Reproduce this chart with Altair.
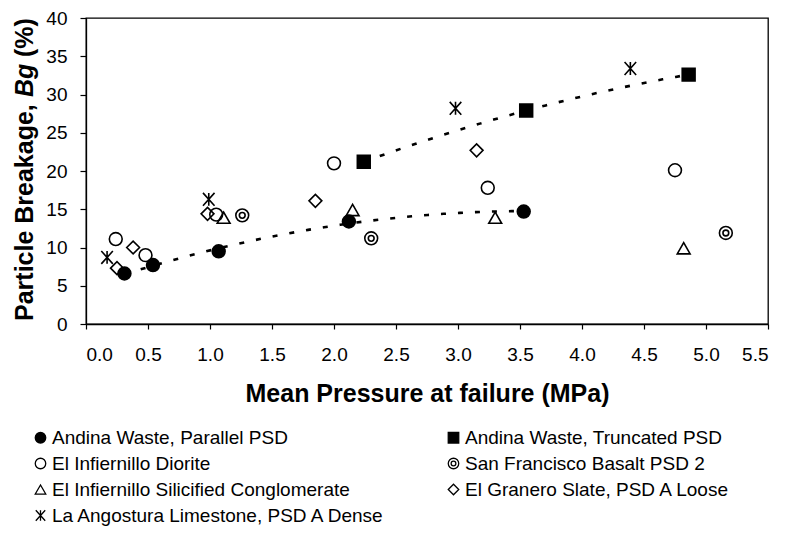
import altair as alt
import pandas as pd

# ---- data ----
# legend order: left column first (top to bottom), then right column
series_names = [
    "Andina Waste, Parallel PSD",
    "El Infiernillo Diorite",
    "El Infiernillo Silicified Conglomerate",
    "La Angostura Limestone, PSD A Dense",
    "Andina Waste, Truncated PSD",
    "San Francisco Basalt PSD 2",
    "El Granero Slate, PSD A Loose",
]

parallel_x = [0.31, 0.54, 1.07, 2.12, 3.53]
parallel_y = [6.6, 7.7, 9.5, 13.4, 14.7]

diorite_x = [0.24, 0.48, 1.05, 2.00, 3.24, 4.75]
diorite_y = [11.1, 9.0, 14.3, 21.0, 17.8, 20.1]

conglomerate_x = [1.11, 2.15, 3.30, 4.82]
conglomerate_y = [13.9, 14.9, 13.9, 9.9]

limestone_x = [0.17, 0.99, 2.98, 4.39]
limestone_y = [8.7, 16.3, 28.2, 33.4]

truncated_x = [2.24, 3.55, 4.86]
truncated_y = [21.2, 27.9, 32.6]

basalt_x = [1.26, 2.30, 5.16]
basalt_y = [14.2, 11.2, 11.9]

slate_x = [0.25, 0.38, 0.98, 1.85, 3.15]
slate_y = [7.3, 10.0, 14.4, 16.1, 22.7]

x_ticks = [0.0, 0.5, 1.0, 1.5, 2.0, 2.5, 3.0, 3.5, 4.0, 4.5, 5.0, 5.5]
y_ticks = [0, 5, 10, 15, 20, 25, 30, 35, 40]

xs = [parallel_x, diorite_x, conglomerate_x, limestone_x, truncated_x, basalt_x, slate_x]
ys = [parallel_y, diorite_y, conglomerate_y, limestone_y, truncated_y, basalt_y, slate_y]

rows = []
for name, sx, sy in zip(series_names, xs, ys):
    for a, b in zip(sx, sy):
        rows.append({"series": name, "x": a, "y": b})
df = pd.DataFrame(rows)

double_circle = ("M1,0A1,1,0,1,1,-1,0A1,1,0,1,1,1,0Z"
                 "M0.45,0A0.45,0.45,0,1,1,-0.45,0A0.45,0.45,0,1,1,0.45,0Z")
asterisk = "M0,-1L0,1M-0.9,-1L0.9,1M-0.9,1L0.9,-1"

shapes = ["circle", "circle", "triangle-up", asterisk, "square", double_circle, "diamond"]
fills = ["black", "transparent", "transparent", "transparent", "black", "transparent", "transparent"]
strokes = ["black"] * 7

FONT = "Liberation Sans"

x_scale = alt.Scale(domain=[0, 5.5], nice=False)
y_scale = alt.Scale(domain=[0, 40], nice=False)


def x_axis():
    return alt.Axis(values=x_ticks, format=".1f", title="Mean Pressure at failure (MPa)",
                    grid=False, tickSize=5, labelPadding=16, titlePadding=17,
                    labelFontSize=19, titleFontSize=25, titleFontWeight="bold",
                    labelOverlap=False, tickCount=20)


def y_axis():
    return alt.Axis(values=y_ticks, format="d", title=None, grid=False, tickSize=6,
                    labelPadding=13, labelFontSize=19, labelOverlap=False, tickCount=20)


points = alt.Chart(df).mark_point(filled=True, size=165, strokeWidth=1.6, opacity=1).encode(
    x=alt.X("x:Q", scale=x_scale, axis=x_axis()),
    y=alt.Y("y:Q", scale=y_scale, axis=y_axis()),
    shape=alt.Shape("series:N", scale=alt.Scale(domain=series_names, range=shapes), title=None),
    fill=alt.Fill("series:N", scale=alt.Scale(domain=series_names, range=fills), title=None),
    stroke=alt.Stroke("series:N", scale=alt.Scale(domain=series_names, range=strokes), title=None),
)

line_style = dict(color="black", strokeWidth=2.6, strokeDash=[5, 12])

trend_parallel = alt.Chart(df).transform_filter(
    alt.datum.series == series_names[0]
).transform_regression("x", "y", method="poly", order=2, extent=[0.31, 3.53]).mark_line(
    **line_style).encode(x=alt.X("x:Q", scale=x_scale, axis=x_axis()),
                         y=alt.Y("y:Q", scale=y_scale, axis=y_axis()))

trend_truncated = alt.Chart(df).transform_filter(
    alt.datum.series == series_names[4]
).transform_regression("x", "y", method="poly", order=2, extent=[2.24, 4.86]).mark_line(
    **line_style).encode(x=alt.X("x:Q", scale=x_scale, axis=x_axis()),
                         y=alt.Y("y:Q", scale=y_scale, axis=y_axis()))

# y-axis title with italic "Bg"
one = alt.Data(values=[{}])
title_kw = dict(angle=270, align="left", baseline="alphabetic", font=FONT,
                fontSize=25, fontWeight="bold", color="black")
t1 = alt.Chart(one).mark_text(text="Particle Breakage, ", **title_kw).encode(
    x=alt.value(-53), y=alt.value(303))
t2 = alt.Chart(one).mark_text(text="Bg", fontStyle="italic", **title_kw).encode(
    x=alt.value(-53), y=alt.value(79))
t3 = alt.Chart(one).mark_text(text="(%)", **title_kw).encode(
    x=alt.value(-53), y=alt.value(39))

chart = alt.layer(points, trend_parallel, trend_truncated, t1, t2, t3).properties(
    width=682, height=306,
    autosize=alt.AutoSizeParams(type="none"),
    padding={"left": 78, "top": 10, "right": 10, "bottom": 205},
).configure_view(
    stroke="black", strokeWidth=1.3
).configure_axis(
    labelFont=FONT, titleFont=FONT, labelColor="black", titleColor="black",
    domainColor="black", tickColor="black", domainWidth=1.3, tickWidth=1.2,
).configure_legend(
    orient="none", legendX=-55, legendY=410, columns=2, columnPadding=58,
    rowPadding=6, labelFont=FONT, labelFontSize=19, labelColor="black",
    symbolSize=110, symbolStrokeWidth=1.3, symbolStrokeColor="black",
    labelLimit=500, padding=0, labelOffset=2,
)

chart.save("out.html", embed_options={"renderer": "svg", "actions": False})
